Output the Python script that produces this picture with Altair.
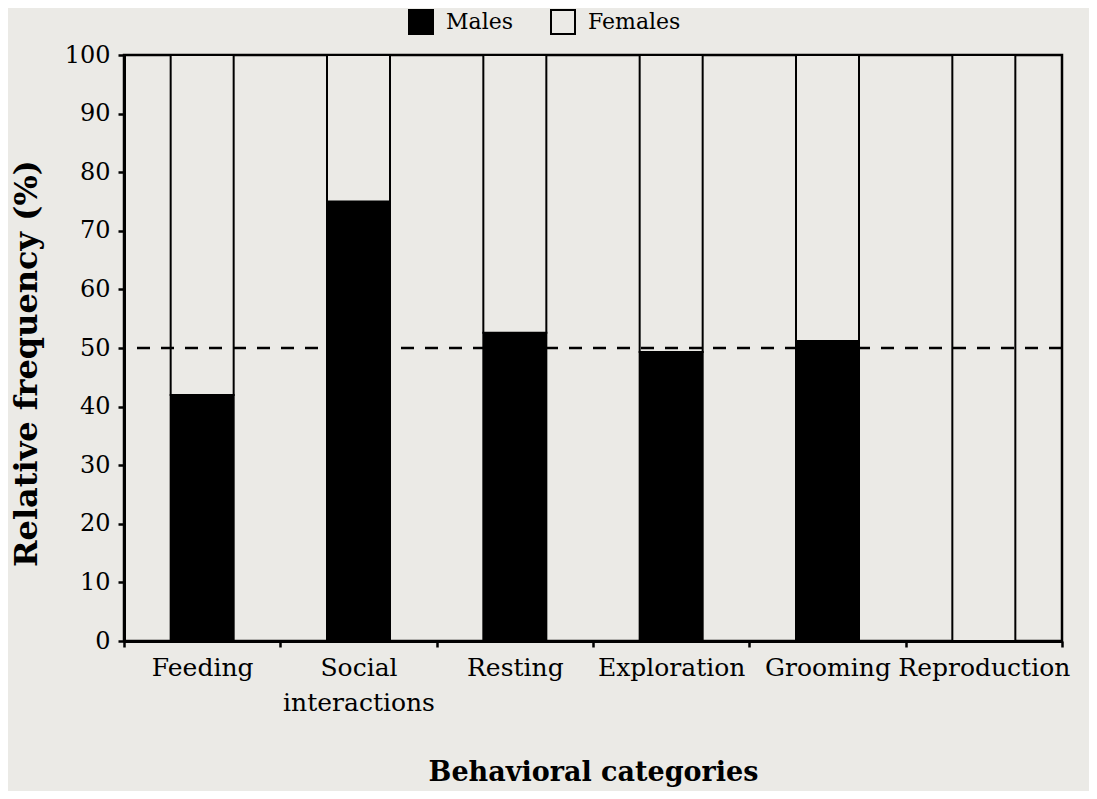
import altair as alt
import pandas as pd

categories = ["Feeding", "Social interactions", "Resting", "Exploration", "Grooming", "Reproduction"]
males = [42.0, 75.0, 52.6, 49.3, 51.2, 0.0]
females = [round(100 - m, 1) for m in males]
sexes = ["Males", "Females"]
reference_line = [50]

rows = []
for c, m, f in zip(categories, males, females):
    rows.append({"category": c, "sex": "Males", "value": m, "ord": 0})
    rows.append({"category": c, "sex": "Females", "value": f, "ord": 1})
df = pd.DataFrame(rows)
ref_df = pd.DataFrame({"y": reference_line})

BG = "#ebeae6"
FONT = "DejaVu Serif"

bars = alt.Chart(df).mark_bar(size=63, stroke="black", strokeWidth=2).encode(
    x=alt.X(
        "category:N",
        sort=categories,
        scale=alt.Scale(paddingInner=0, paddingOuter=0),
        axis=alt.Axis(
            title="Behavioral categories",
            labelAngle=0,
            tickBand="extent",
            labelExpr="datum.label == 'Social interactions' ? ['Social', 'interactions'] : datum.label",
            labelLineHeight=35,
            labelFontSize=25,
            labelPadding=8,
            tickSize=6,
            titlePadding=44,
            titleFontSize=27,
        ),
    ),
    y=alt.Y(
        "value:Q",
        stack="zero",
        scale=alt.Scale(domain=[0, 100], nice=False),
        axis=alt.Axis(
            values=list(range(0, 101, 10)),
            title="Relative frequency (%)",
            grid=False,
            tickSize=6,
            labelPadding=8,
            labelFontSize=24,
            titlePadding=21,
            titleFontSize=32,
            titleY=308,
        ),
    ),
    color=alt.Color(
        "sex:N",
        scale=alt.Scale(domain=sexes, range=["black", BG]),
        legend=alt.Legend(
            title=None,
            orient="none",
            legendX=284,
            legendY=-46,
            direction="horizontal",
            symbolType="square",
            symbolSize=576,
            symbolStrokeColor="black",
            symbolStrokeWidth=2,
            labelFont=FONT,
            labelFontSize=22,
            labelColor="black",
            labelOffset=12,
            columnPadding=34,
        ),
    ),
    order=alt.Order("ord:Q", sort="ascending"),
)

rule = alt.Chart(ref_df).mark_rule(
    color="black", strokeWidth=2.5, strokeDash=[13, 11]
).encode(y="y:Q")

chart = (
    alt.layer(bars, rule)
    .properties(
        width=938,
        height=586,
        autosize="none",
        padding={"left": 116, "top": 47, "right": 27, "bottom": 150},
        background=BG,
    )
    .configure_view(stroke="black", strokeWidth=2.5)
    .configure_axis(
        domainColor="black",
        domainWidth=3,
        tickColor="black",
        tickWidth=2.5,
        labelFont=FONT,
        labelColor="black",
        titleFont=FONT,
        titleFontWeight="bold",
        titleColor="black",
    )
)

chart.save("out.html", embed_options={"renderer": "svg", "actions": False})
